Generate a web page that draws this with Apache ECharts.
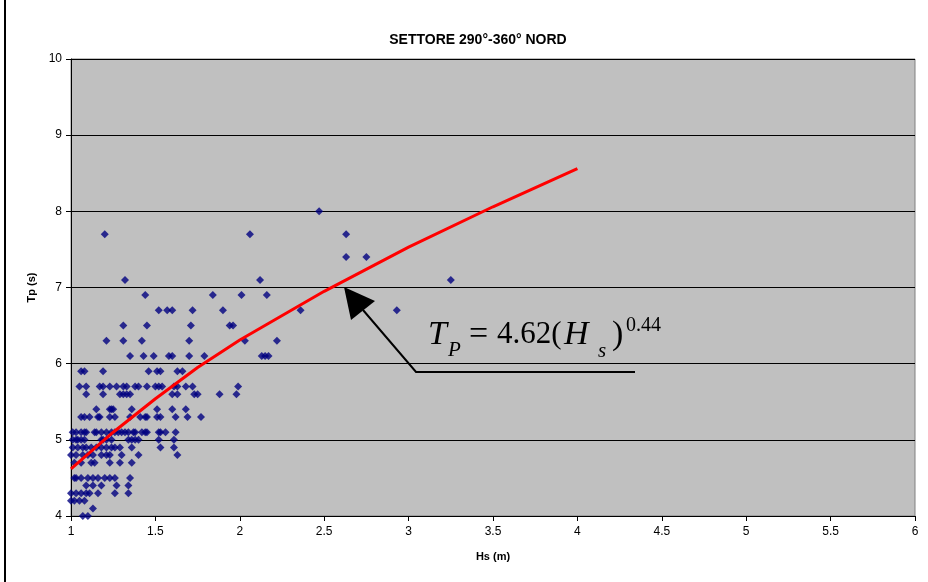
<!DOCTYPE html>
<html>
<head>
<meta charset="utf-8">
<script src="https://cdn.jsdelivr.net/npm/echarts@6/dist/echarts.min.js"></script>
<style>
  html, body { margin: 0; padding: 0; background: #fff; }
  #chart { width: 928px; height: 582px; }
</style>
</head>
<body>
<div id="chart"></div>
<script>
// Tp levels (s) and the Hs values (m) observed at each level
const tpLevels = [8.0, 7.7, 7.4, 7.1, 6.9, 6.7, 6.5, 6.3, 6.1, 5.9, 5.7, 5.6, 5.4, 5.3, 5.1, 5.0, 4.9, 4.8, 4.7, 4.5, 4.4, 4.3, 4.2, 4.1, 4.0];
const hsByLevel = [
    [2.47],
    [1.20, 2.06, 2.63],
    [2.63, 2.75],
    [1.32, 2.12, 3.25],
    [1.44, 1.84, 2.01, 2.16],
    [1.52, 1.57, 1.60, 1.72, 1.90, 2.36, 2.93],
    [1.31, 1.45, 1.71, 1.94, 1.96],
    [1.21, 1.31, 1.42, 1.70, 2.03, 2.22],
    [1.35, 1.43, 1.49, 1.58, 1.60, 1.70, 1.79, 2.13, 2.15, 2.17],
    [1.06, 1.08, 1.19, 1.46, 1.51, 1.53, 1.63, 1.66],
    [1.05, 1.09, 1.17, 1.19, 1.23, 1.27, 1.31, 1.33, 1.38, 1.40, 1.45, 1.50, 1.52, 1.54, 1.61, 1.63, 1.68, 1.72, 1.99],
    [1.09, 1.19, 1.29, 1.31, 1.33, 1.35, 1.60, 1.63, 1.73, 1.75, 1.88, 1.98],
    [1.15, 1.23, 1.24, 1.25, 1.36, 1.51, 1.60, 1.68],
    [1.06, 1.08, 1.11, 1.16, 1.17, 1.23, 1.26, 1.35, 1.41, 1.44, 1.45, 1.51, 1.53, 1.62, 1.69, 1.77],
    [1.01, 1.03, 1.06, 1.08, 1.09, 1.14, 1.15, 1.18, 1.21, 1.24, 1.26, 1.28, 1.30, 1.32, 1.34, 1.37, 1.38, 1.42, 1.44, 1.45, 1.52, 1.53, 1.56, 1.62],
    [1.01, 1.03, 1.04, 1.06, 1.08, 1.18, 1.19, 1.21, 1.24, 1.34, 1.36, 1.38, 1.40, 1.52, 1.61],
    [1.01, 1.04, 1.07, 1.09, 1.12, 1.15, 1.18, 1.21, 1.24, 1.26, 1.29, 1.36, 1.53, 1.61],
    [1.00, 1.03, 1.07, 1.10, 1.13, 1.18, 1.21, 1.23, 1.30, 1.40, 1.63],
    [1.02, 1.06, 1.12, 1.14, 1.23, 1.29, 1.36],
    [1.02, 1.03, 1.06, 1.10, 1.13, 1.16, 1.20, 1.23, 1.26, 1.35],
    [1.09, 1.13, 1.18, 1.27, 1.34],
    [1.00, 1.03, 1.06, 1.09, 1.11, 1.16, 1.26, 1.34],
    [1.00, 1.02, 1.05, 1.08],
    [1.13],
    [1.07, 1.10]
];

// fitted curve Tp = 4.62 Hs^0.44
const fitHs = [1.0, 1.25, 1.5, 1.75, 2.0, 2.5, 3.0, 3.5, 4.0];
const fitTp = [4.62, 5.10, 5.54, 5.95, 6.31, 6.95, 7.53, 8.06, 8.56];

const xTicks = { min: 1, max: 6, interval: 0.5 };
const yTicks = { min: 4, max: 10, interval: 1 };

const scatterData = [];
tpLevels.forEach((tp, i) => {
    hsByLevel[i].forEach(hs => scatterData.push([hs, tp]));
});
const fitData = fitHs.map((hs, i) => [hs, fitTp[i]]);

const serif = '"Liberation Serif", "Times New Roman", serif';
const sans = 'Arial, "Liberation Sans", sans-serif';

const chart = echarts.init(document.getElementById('chart'));

chart.setOption({
    backgroundColor: '#ffffff',
    animation: false,
    title: {
        text: 'SETTORE 290°-360° NORD',
        left: 473,
        top: 28,
        textAlign: 'center',
        textStyle: { fontFamily: sans, fontSize: 14, fontWeight: 'bold', color: '#000' }
    },
    grid: {
        left: 71, right: 13, top: 59, bottom: 66,
        show: true,
        backgroundColor: '#C0C0C0',
        borderColor: '#808080',
        borderWidth: 1
    },
    xAxis: {
        type: 'value',
        min: xTicks.min, max: xTicks.max, interval: xTicks.interval,
        name: 'Hs (m)',
        nameLocation: 'middle',
        nameGap: 35,
        nameTextStyle: { fontFamily: sans, fontSize: 11, fontWeight: 'bold', color: '#000' },
        axisLine: { onZero: false, lineStyle: { color: '#000', width: 1 } },
        axisTick: { inside: false, length: 5, lineStyle: { color: '#000' } },
        axisLabel: { fontFamily: sans, fontSize: 12, color: '#000', margin: 10 },
        splitLine: { show: false }
    },
    yAxis: {
        type: 'value',
        min: yTicks.min, max: yTicks.max, interval: yTicks.interval,
        name: 'Tp (s)',
        nameLocation: 'middle',
        nameGap: 32,
        nameTextStyle: { fontFamily: sans, fontSize: 11, fontWeight: 'bold', color: '#000' },
        axisLine: { onZero: false, lineStyle: { color: '#000', width: 1 } },
        axisTick: { inside: false, length: 5, lineStyle: { color: '#000' } },
        axisLabel: { fontFamily: sans, fontSize: 12, color: '#000', margin: 9 },
        splitLine: { show: true, lineStyle: { color: '#000', width: 1 } }
    },
    series: [
        {
            type: 'scatter',
            data: scatterData,
            symbol: 'diamond',
            symbolSize: 8,
            itemStyle: { color: '#000080' },
            z: 2
        },
        {
            type: 'line',
            data: fitData,
            symbol: 'none',
            smooth: false,
            lineStyle: { color: '#FF0000', width: 3 },
            z: 3
        }
    ],
    graphic: [
        // chart frame, left edge
        { type: 'line', shape: { x1: 5, y1: 0, x2: 5, y2: 582 }, style: { stroke: '#000', lineWidth: 2 } },
        // leader line for the equation
        { type: 'polyline', shape: { points: [[363, 310], [416, 372], [635, 372]] }, style: { stroke: '#000', lineWidth: 2, fill: null }, z: 10 },
        { type: 'polygon', shape: { points: [[344, 287], [351, 320], [375, 301]] }, style: { fill: '#000' }, z: 10 },
        // equation text
        { type: 'text', left: 428, top: 318, z: 10, style: { text: 'T', font: 'italic 34px ' + serif, fill: '#000' } },
        { type: 'text', left: 448, top: 340, z: 10, style: { text: 'P', font: 'italic 21px ' + serif, fill: '#000' } },
        { type: 'text', left: 469, top: 318, z: 10, style: { text: '=', font: '34px ' + serif, fill: '#000' } },
        { type: 'text', left: 497, top: 319, z: 10, style: { text: '4.62(', font: '31px ' + serif, fill: '#000' } },
        { type: 'text', left: 564, top: 318, z: 10, style: { text: 'H', font: 'italic 34px ' + serif, fill: '#000' } },
        { type: 'text', left: 598, top: 341, z: 10, style: { text: 's', font: 'italic 21px ' + serif, fill: '#000' } },
        { type: 'text', left: 612, top: 318, z: 10, style: { text: ')', font: '34px ' + serif, fill: '#000' } },
        { type: 'text', left: 626, top: 316, z: 10, style: { text: '0.44', font: '20px ' + serif, fill: '#000' } }
    ]
});
</script>
</body>
</html>
